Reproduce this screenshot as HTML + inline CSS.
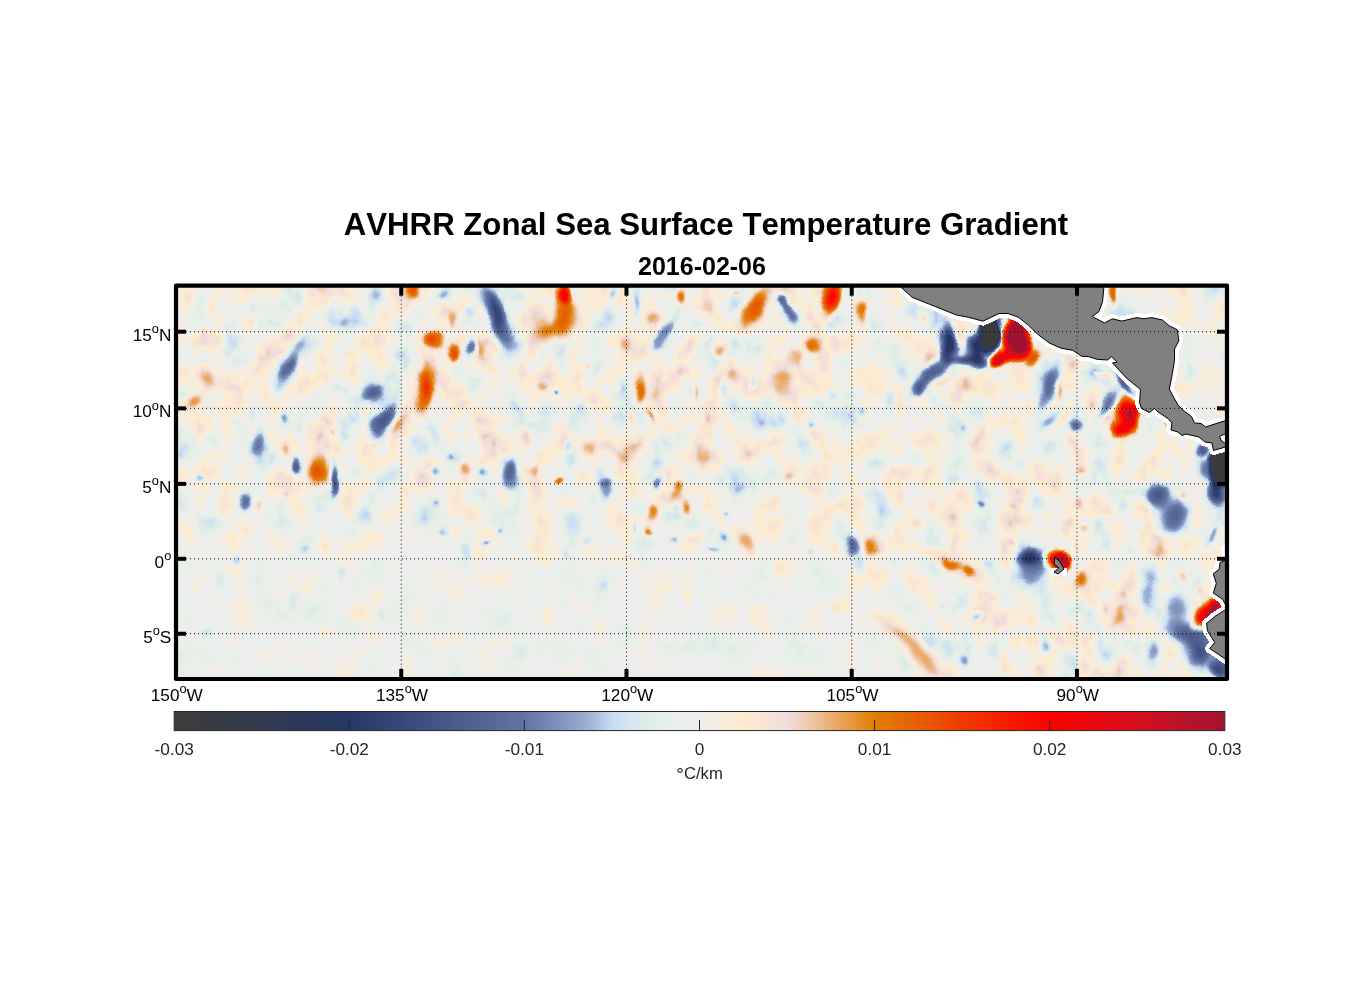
<!DOCTYPE html>
<html><head><meta charset="utf-8"><title>AVHRR Zonal Sea Surface Temperature Gradient</title>
<style>
html,body{margin:0;padding:0;background:#fff;}
body{width:1356px;height:1000px;overflow:hidden;font-family:"Liberation Sans",sans-serif;}
svg{display:block}
text{font-family:"Liberation Sans",sans-serif;}
</style></head><body>
<svg width="1356" height="1000" viewBox="0 0 1356 1000">
<defs>
<radialGradient id="gp"><stop offset="0" stop-color="#fff" stop-opacity="1"/><stop offset="0.2" stop-color="#fff" stop-opacity="0.93"/><stop offset="0.4" stop-color="#fff" stop-opacity="0.72"/><stop offset="0.6" stop-color="#fff" stop-opacity="0.42"/><stop offset="0.8" stop-color="#fff" stop-opacity="0.15"/><stop offset="1" stop-color="#fff" stop-opacity="0"/></radialGradient>
<radialGradient id="gn"><stop offset="0" stop-color="#000" stop-opacity="1"/><stop offset="0.2" stop-color="#000" stop-opacity="0.93"/><stop offset="0.4" stop-color="#000" stop-opacity="0.72"/><stop offset="0.6" stop-color="#000" stop-opacity="0.42"/><stop offset="0.8" stop-color="#000" stop-opacity="0.15"/><stop offset="1" stop-color="#000" stop-opacity="0"/></radialGradient>
<radialGradient id="gs"><stop offset="0" stop-color="#808080" stop-opacity="0.8"/><stop offset="0.4" stop-color="#808080" stop-opacity="0.62"/><stop offset="0.7" stop-color="#808080" stop-opacity="0.28"/><stop offset="1" stop-color="#808080" stop-opacity="0"/></radialGradient>
<radialGradient id="gpS"><stop offset="0" stop-color="#fff" stop-opacity="1"/><stop offset="0.5" stop-color="#fff" stop-opacity="1"/><stop offset="0.66" stop-color="#fff" stop-opacity="0.75"/><stop offset="0.85" stop-color="#fff" stop-opacity="0.3"/><stop offset="1" stop-color="#fff" stop-opacity="0"/></radialGradient>
<radialGradient id="gnS"><stop offset="0" stop-color="#000" stop-opacity="1"/><stop offset="0.5" stop-color="#000" stop-opacity="1"/><stop offset="0.66" stop-color="#000" stop-opacity="0.75"/><stop offset="0.85" stop-color="#000" stop-opacity="0.3"/><stop offset="1" stop-color="#000" stop-opacity="0"/></radialGradient>
<linearGradient id="cbg" x1="0" x2="1" y1="0" y2="0"><stop offset="0.0000" stop-color="rgb(60,60,60)"/><stop offset="0.0417" stop-color="rgb(55,59,68)"/><stop offset="0.0833" stop-color="rgb(50,58,78)"/><stop offset="0.1250" stop-color="rgb(44,56,90)"/><stop offset="0.1667" stop-color="rgb(38,55,102)"/><stop offset="0.2083" stop-color="rgb(52,68,118)"/><stop offset="0.2500" stop-color="rgb(68,84,134)"/><stop offset="0.2917" stop-color="rgb(82,100,148)"/><stop offset="0.3333" stop-color="rgb(97,116,162)"/><stop offset="0.3750" stop-color="rgb(135,155,195)"/><stop offset="0.3958" stop-color="rgb(160,180,212)"/><stop offset="0.4167" stop-color="rgb(200,220,245)"/><stop offset="0.4375" stop-color="rgb(215,230,240)"/><stop offset="0.4583" stop-color="rgb(226,238,230)"/><stop offset="0.4792" stop-color="rgb(234,240,234)"/><stop offset="0.5000" stop-color="rgb(238,238,238)"/><stop offset="0.5208" stop-color="rgb(246,238,224)"/><stop offset="0.5417" stop-color="rgb(253,236,206)"/><stop offset="0.5625" stop-color="rgb(247,228,214)"/><stop offset="0.5833" stop-color="rgb(240,222,222)"/><stop offset="0.6042" stop-color="rgb(238,200,170)"/><stop offset="0.6250" stop-color="rgb(235,175,115)"/><stop offset="0.6458" stop-color="rgb(230,150,60)"/><stop offset="0.6667" stop-color="rgb(225,125,5)"/><stop offset="0.7083" stop-color="rgb(232,95,3)"/><stop offset="0.7500" stop-color="rgb(240,58,0)"/><stop offset="0.7917" stop-color="rgb(248,28,0)"/><stop offset="0.8333" stop-color="rgb(255,0,0)"/><stop offset="0.8750" stop-color="rgb(235,8,15)"/><stop offset="0.9167" stop-color="rgb(215,15,30)"/><stop offset="0.9583" stop-color="rgb(188,18,40)"/><stop offset="1.0000" stop-color="rgb(160,20,50)"/></linearGradient>
<filter id="cm" filterUnits="userSpaceOnUse" x="170" y="280" width="1064" height="406" color-interpolation-filters="sRGB">
<feComponentTransfer>
<feFuncR type="table" tableValues="0.235 0.230 0.225 0.221 0.216 0.211 0.206 0.201 0.196 0.190 0.184 0.178 0.173 0.167 0.161 0.155 0.149 0.163 0.176 0.190 0.204 0.220 0.235 0.251 0.267 0.280 0.294 0.308 0.322 0.336 0.351 0.366 0.380 0.418 0.455 0.492 0.529 0.578 0.627 0.706 0.784 0.814 0.843 0.865 0.886 0.902 0.918 0.925 0.933 0.949 0.965 0.978 0.992 0.980 0.969 0.955 0.941 0.937 0.933 0.927 0.922 0.912 0.902 0.892 0.882 0.889 0.896 0.903 0.910 0.918 0.925 0.933 0.941 0.949 0.957 0.965 0.973 0.979 0.986 0.993 1.000 0.980 0.961 0.941 0.922 0.902 0.882 0.863 0.843 0.817 0.790 0.764 0.737 0.710 0.682 0.655 0.627"/>
<feFuncG type="table" tableValues="0.235 0.234 0.233 0.232 0.231 0.230 0.229 0.228 0.227 0.225 0.224 0.222 0.220 0.219 0.218 0.217 0.216 0.228 0.241 0.254 0.267 0.282 0.298 0.314 0.329 0.345 0.361 0.376 0.392 0.408 0.424 0.439 0.455 0.493 0.531 0.570 0.608 0.657 0.706 0.784 0.863 0.882 0.902 0.918 0.933 0.937 0.941 0.937 0.933 0.933 0.933 0.929 0.925 0.910 0.894 0.882 0.871 0.827 0.784 0.735 0.686 0.637 0.588 0.539 0.490 0.461 0.431 0.402 0.373 0.336 0.300 0.264 0.227 0.198 0.169 0.139 0.110 0.082 0.055 0.027 0.000 0.008 0.016 0.024 0.031 0.038 0.045 0.052 0.059 0.062 0.065 0.068 0.071 0.073 0.075 0.076 0.078"/>
<feFuncB type="table" tableValues="0.235 0.243 0.251 0.259 0.267 0.276 0.286 0.296 0.306 0.318 0.329 0.341 0.353 0.365 0.376 0.388 0.400 0.416 0.431 0.447 0.463 0.478 0.494 0.510 0.525 0.539 0.553 0.567 0.580 0.594 0.608 0.622 0.635 0.668 0.700 0.732 0.765 0.798 0.831 0.896 0.961 0.951 0.941 0.922 0.902 0.910 0.918 0.925 0.933 0.906 0.878 0.843 0.808 0.824 0.839 0.855 0.871 0.769 0.667 0.559 0.451 0.343 0.235 0.127 0.020 0.018 0.016 0.014 0.012 0.009 0.006 0.003 0.000 0.000 0.000 0.000 0.000 0.000 0.000 0.000 0.000 0.015 0.029 0.044 0.059 0.074 0.088 0.103 0.118 0.127 0.137 0.147 0.157 0.167 0.176 0.186 0.196"/>
</feComponentTransfer>
</filter>
<filter id="dp" filterUnits="userSpaceOnUse" x="170" y="280" width="1064" height="406" color-interpolation-filters="sRGB">
<feTurbulence type="fractalNoise" baseFrequency="0.05" numOctaves="1" seed="3" result="d"/>
<feDisplacementMap in="SourceGraphic" in2="d" scale="11" xChannelSelector="R" yChannelSelector="G"/>
</filter>
<filter id="nz" filterUnits="userSpaceOnUse" x="170" y="280" width="1064" height="406" color-interpolation-filters="sRGB">
<feTurbulence type="fractalNoise" baseFrequency="0.036 0.030" numOctaves="3" seed="7" result="t"/>
<feColorMatrix in="t" type="matrix" values="0.31 0 0 0 0.357  0.31 0 0 0 0.357  0.31 0 0 0 0.357  0 0 0 0 1"/>
</filter>
<linearGradient id="vg" x1="0" x2="0" y1="0" y2="1"><stop offset="0" stop-color="#7b7b7b" stop-opacity="0"/><stop offset="0.45" stop-color="#7b7b7b" stop-opacity="0"/><stop offset="0.72" stop-color="#7b7b7b" stop-opacity="0.55"/><stop offset="1" stop-color="#7b7b7b" stop-opacity="0.6"/></linearGradient>
<linearGradient id="hg" x1="0" x2="1" y1="0" y2="0"><stop offset="0" stop-color="#fff"/><stop offset="0.62" stop-color="#fff"/><stop offset="0.78" stop-color="#000"/><stop offset="1" stop-color="#000"/></linearGradient>
<mask id="hm" maskUnits="userSpaceOnUse" x="170" y="280" width="1064" height="406"><rect x="170" y="280" width="1064" height="406" fill="url(#hg)"/></mask>
<clipPath id="ax"><rect x="176" y="285.7" width="1051" height="393.3"/></clipPath>
</defs>
<rect width="1356" height="1000" fill="#fff"/>
<g clip-path="url(#ax)">
<g filter="url(#cm)">
<rect x="170" y="280" width="1064" height="406" fill="#808080" filter="url(#nz)"/>
<rect x="170" y="280" width="1064" height="406" fill="url(#vg)" mask="url(#hm)"/>
<g filter="url(#dp)">
<ellipse cx="412.0" cy="291.0" rx="12.2" ry="15.8" fill="url(#gs)"/>
<ellipse cx="434.0" cy="340.0" rx="15.8" ry="15.8" fill="url(#gs)" transform="rotate(-30 434.0 340.0)"/>
<ellipse cx="426.0" cy="390.0" rx="14.0" ry="38.5" fill="url(#gs)" transform="rotate(5 426.0 390.0)"/>
<ellipse cx="395.0" cy="425.0" rx="19.3" ry="9.1" fill="url(#gs)" transform="rotate(-36 395.0 425.0)"/>
<ellipse cx="372.0" cy="393.0" rx="21.0" ry="17.5" fill="url(#gs)"/>
<ellipse cx="383.0" cy="420.0" rx="31.7" ry="15.9" fill="url(#gs)" transform="rotate(-60 383.0 420.0)"/>
<ellipse cx="286.0" cy="370.0" rx="22.0" ry="13.7" fill="url(#gs)" transform="rotate(-63 286.0 370.0)"/>
<ellipse cx="298.0" cy="350.0" rx="30.5" ry="11.4" fill="url(#gs)" transform="rotate(-56 298.0 350.0)"/>
<ellipse cx="206.0" cy="378.0" rx="12.2" ry="19.2" fill="url(#gs)" transform="rotate(-20 206.0 378.0)"/>
<ellipse cx="194.0" cy="402.0" rx="17.5" ry="12.2" fill="url(#gs)" transform="rotate(-40 194.0 402.0)"/>
<ellipse cx="259.0" cy="444.0" rx="14.0" ry="19.2" fill="url(#gs)"/>
<ellipse cx="285.0" cy="418.0" rx="7.0" ry="10.5" fill="url(#gs)"/>
<ellipse cx="285.0" cy="448.0" rx="7.0" ry="12.2" fill="url(#gs)"/>
<ellipse cx="318.0" cy="471.0" rx="15.8" ry="24.5" fill="url(#gs)"/>
<ellipse cx="296.0" cy="466.0" rx="7.0" ry="14.0" fill="url(#gs)"/>
<ellipse cx="333.0" cy="481.0" rx="7.0" ry="26.2" fill="url(#gs)"/>
<ellipse cx="334.0" cy="430.0" rx="5.2" ry="5.2" fill="url(#gs)"/>
<ellipse cx="374.0" cy="446.0" rx="5.2" ry="5.2" fill="url(#gs)"/>
<ellipse cx="200.0" cy="478.0" rx="8.8" ry="7.0" fill="url(#gs)"/>
<ellipse cx="434.0" cy="472.0" rx="8.8" ry="8.8" fill="url(#gs)"/>
<ellipse cx="376.0" cy="294.0" rx="8.8" ry="14.0" fill="url(#gs)"/>
<ellipse cx="356.0" cy="314.0" rx="8.8" ry="12.2" fill="url(#gs)"/>
<ellipse cx="416.0" cy="442.0" rx="8.8" ry="14.0" fill="url(#gs)"/>
<ellipse cx="442.0" cy="294.0" rx="8.8" ry="10.5" fill="url(#gs)"/>
<ellipse cx="492.0" cy="304.0" rx="33.0" ry="13.7" fill="url(#gs)" transform="rotate(67 492.0 304.0)"/>
<ellipse cx="501.5" cy="326.0" rx="40.8" ry="15.9" fill="url(#gs)" transform="rotate(70 501.5 326.0)"/>
<ellipse cx="564.0" cy="293.0" rx="10.5" ry="15.8" fill="url(#gs)"/>
<ellipse cx="567.0" cy="310.0" rx="19.2" ry="22.8" fill="url(#gs)"/>
<ellipse cx="557.0" cy="327.0" rx="29.8" ry="17.5" fill="url(#gs)"/>
<ellipse cx="540.0" cy="336.0" rx="17.5" ry="17.5" fill="url(#gs)"/>
<ellipse cx="532.0" cy="350.0" rx="10.5" ry="17.5" fill="url(#gs)"/>
<ellipse cx="538.0" cy="312.0" rx="14.0" ry="14.0" fill="url(#gs)"/>
<ellipse cx="453.0" cy="352.0" rx="12.2" ry="15.8" fill="url(#gs)"/>
<ellipse cx="453.0" cy="320.0" rx="7.0" ry="14.0" fill="url(#gs)"/>
<ellipse cx="471.0" cy="348.0" rx="8.8" ry="15.8" fill="url(#gs)"/>
<ellipse cx="470.0" cy="312.0" rx="8.8" ry="12.2" fill="url(#gs)"/>
<ellipse cx="626.0" cy="344.0" rx="12.2" ry="15.8" fill="url(#gs)"/>
<ellipse cx="682.0" cy="297.0" rx="10.5" ry="14.0" fill="url(#gs)"/>
<ellipse cx="654.0" cy="318.0" rx="12.2" ry="10.5" fill="url(#gs)"/>
<ellipse cx="659.0" cy="341.0" rx="22.7" ry="10.2" fill="url(#gs)" transform="rotate(-61 659.0 341.0)"/>
<ellipse cx="668.0" cy="325.0" rx="18.3" ry="9.1" fill="url(#gs)" transform="rotate(-60 668.0 325.0)"/>
<ellipse cx="636.0" cy="302.0" rx="7.0" ry="24.5" fill="url(#gs)"/>
<ellipse cx="612.0" cy="294.0" rx="7.0" ry="10.5" fill="url(#gs)"/>
<ellipse cx="612.0" cy="316.0" rx="7.0" ry="12.2" fill="url(#gs)"/>
<ellipse cx="640.0" cy="390.0" rx="8.8" ry="24.5" fill="url(#gs)"/>
<ellipse cx="650.0" cy="416.0" rx="5.2" ry="14.0" fill="url(#gs)" transform="rotate(-15 650.0 416.0)"/>
<ellipse cx="543.0" cy="385.0" rx="10.5" ry="8.8" fill="url(#gs)"/>
<ellipse cx="558.0" cy="393.0" rx="5.2" ry="5.2" fill="url(#gs)"/>
<ellipse cx="588.0" cy="450.0" rx="12.2" ry="12.2" fill="url(#gs)"/>
<ellipse cx="511.0" cy="474.0" rx="14.0" ry="22.8" fill="url(#gs)"/>
<ellipse cx="465.0" cy="468.0" rx="12.2" ry="8.8" fill="url(#gs)" transform="rotate(-35 465.0 468.0)"/>
<ellipse cx="484.0" cy="472.0" rx="8.8" ry="8.8" fill="url(#gs)"/>
<ellipse cx="525.0" cy="438.0" rx="8.8" ry="14.0" fill="url(#gs)"/>
<ellipse cx="534.0" cy="472.0" rx="8.8" ry="12.2" fill="url(#gs)"/>
<ellipse cx="558.0" cy="480.0" rx="8.8" ry="7.0" fill="url(#gs)"/>
<ellipse cx="696.0" cy="394.0" rx="5.2" ry="10.5" fill="url(#gs)"/>
<ellipse cx="586.0" cy="365.0" rx="5.2" ry="5.2" fill="url(#gs)"/>
<ellipse cx="570.0" cy="446.0" rx="5.2" ry="8.8" fill="url(#gs)"/>
<ellipse cx="450.0" cy="458.0" rx="7.0" ry="7.0" fill="url(#gs)"/>
<ellipse cx="604.0" cy="482.0" rx="8.8" ry="7.0" fill="url(#gs)"/>
<ellipse cx="658.0" cy="481.0" rx="8.8" ry="7.0" fill="url(#gs)"/>
<ellipse cx="678.0" cy="484.0" rx="8.8" ry="7.0" fill="url(#gs)"/>
<ellipse cx="622.0" cy="386.0" rx="7.0" ry="10.5" fill="url(#gs)"/>
<ellipse cx="632.0" cy="419.0" rx="7.0" ry="10.5" fill="url(#gs)"/>
<ellipse cx="710.0" cy="416.0" rx="7.0" ry="10.5" fill="url(#gs)"/>
<ellipse cx="755.0" cy="308.0" rx="39.5" ry="15.9" fill="url(#gs)" transform="rotate(119 755.0 308.0)"/>
<ellipse cx="832.5" cy="298.0" rx="29.4" ry="13.7" fill="url(#gs)" transform="rotate(115 832.5 298.0)"/>
<ellipse cx="783.0" cy="299.0" rx="10.5" ry="10.5" fill="url(#gs)"/>
<ellipse cx="788.0" cy="307.0" rx="8.8" ry="8.8" fill="url(#gs)"/>
<ellipse cx="792.0" cy="316.0" rx="12.2" ry="14.0" fill="url(#gs)"/>
<ellipse cx="863.0" cy="312.0" rx="10.5" ry="19.2" fill="url(#gs)"/>
<ellipse cx="812.0" cy="343.0" rx="14.0" ry="14.0" fill="url(#gs)"/>
<ellipse cx="796.0" cy="358.0" rx="14.0" ry="15.8" fill="url(#gs)" transform="rotate(-40 796.0 358.0)"/>
<ellipse cx="781.0" cy="376.0" rx="15.8" ry="24.5" fill="url(#gs)"/>
<ellipse cx="782.0" cy="394.0" rx="12.2" ry="14.0" fill="url(#gs)"/>
<ellipse cx="719.0" cy="349.0" rx="12.2" ry="12.2" fill="url(#gs)"/>
<ellipse cx="735.0" cy="291.0" rx="7.0" ry="5.2" fill="url(#gs)"/>
<ellipse cx="948.0" cy="342.0" rx="12.2" ry="29.8" fill="url(#gs)"/>
<ellipse cx="932.0" cy="374.0" rx="40.4" ry="12.5" fill="url(#gs)" transform="rotate(135 932.0 374.0)"/>
<ellipse cx="918.0" cy="389.0" rx="10.5" ry="10.5" fill="url(#gs)"/>
<ellipse cx="969.0" cy="360.5" rx="30.5" ry="9.1" fill="url(#gs)" transform="rotate(2 969.0 360.5)"/>
<ellipse cx="944.0" cy="380.0" rx="7.0" ry="17.5" fill="url(#gs)" transform="rotate(40 944.0 380.0)"/>
<ellipse cx="972.0" cy="334.0" rx="5.2" ry="7.0" fill="url(#gs)"/>
<ellipse cx="863.0" cy="413.0" rx="7.0" ry="7.0" fill="url(#gs)"/>
<ellipse cx="811.0" cy="426.0" rx="7.0" ry="7.0" fill="url(#gs)"/>
<ellipse cx="966.0" cy="430.0" rx="5.2" ry="7.0" fill="url(#gs)"/>
<ellipse cx="788.0" cy="476.0" rx="10.5" ry="7.0" fill="url(#gs)" transform="rotate(-20 788.0 476.0)"/>
<ellipse cx="726.0" cy="388.0" rx="8.8" ry="10.5" fill="url(#gs)"/>
<ellipse cx="752.0" cy="382.0" rx="7.0" ry="14.0" fill="url(#gs)"/>
<ellipse cx="925.0" cy="319.0" rx="7.0" ry="10.5" fill="url(#gs)"/>
<ellipse cx="890.0" cy="398.0" rx="8.8" ry="10.5" fill="url(#gs)"/>
<ellipse cx="832.0" cy="396.0" rx="8.8" ry="10.5" fill="url(#gs)"/>
<ellipse cx="990.0" cy="333.0" rx="14.0" ry="24.5" fill="url(#gs)"/>
<ellipse cx="978.0" cy="348.0" rx="17.5" ry="24.5" fill="url(#gs)"/>
<ellipse cx="1017.0" cy="337.0" rx="15.8" ry="28.0" fill="url(#gs)"/>
<ellipse cx="1004.0" cy="358.0" rx="21.0" ry="12.2" fill="url(#gs)"/>
<ellipse cx="997.0" cy="362.0" rx="10.5" ry="10.5" fill="url(#gs)"/>
<ellipse cx="1032.0" cy="356.0" rx="12.2" ry="15.8" fill="url(#gs)"/>
<ellipse cx="1128.0" cy="414.0" rx="15.8" ry="29.8" fill="url(#gs)"/>
<ellipse cx="1120.0" cy="430.0" rx="12.2" ry="10.5" fill="url(#gs)"/>
<ellipse cx="1050.0" cy="385.0" rx="40.1" ry="11.4" fill="url(#gs)" transform="rotate(108 1050.0 385.0)"/>
<ellipse cx="1051.0" cy="419.0" rx="21.5" ry="9.1" fill="url(#gs)" transform="rotate(135 1051.0 419.0)"/>
<ellipse cx="1074.0" cy="426.0" rx="14.0" ry="12.2" fill="url(#gs)"/>
<ellipse cx="1106.0" cy="405.0" rx="24.2" ry="11.4" fill="url(#gs)" transform="rotate(124 1106.0 405.0)"/>
<ellipse cx="1125.0" cy="383.0" rx="25.4" ry="6.8" fill="url(#gs)" transform="rotate(45 1125.0 383.0)"/>
<ellipse cx="1060.0" cy="392.0" rx="5.2" ry="15.8" fill="url(#gs)"/>
<ellipse cx="1083.0" cy="469.0" rx="10.5" ry="8.8" fill="url(#gs)" transform="rotate(-30 1083.0 469.0)"/>
<ellipse cx="1104.0" cy="376.0" rx="14.0" ry="5.2" fill="url(#gs)" transform="rotate(30 1104.0 376.0)"/>
<ellipse cx="1166.0" cy="424.0" rx="7.0" ry="5.2" fill="url(#gs)"/>
<ellipse cx="1112.0" cy="296.0" rx="7.0" ry="15.8" fill="url(#gs)"/>
<ellipse cx="1020.0" cy="376.0" rx="21.0" ry="24.5" fill="url(#gs)"/>
<ellipse cx="1221.0" cy="466.0" rx="15.8" ry="24.5" fill="url(#gs)"/>
<ellipse cx="1202.0" cy="450.0" rx="10.5" ry="10.5" fill="url(#gs)"/>
<ellipse cx="1206.0" cy="470.0" rx="14.0" ry="17.5" fill="url(#gs)"/>
<ellipse cx="1190.0" cy="370.0" rx="8.8" ry="17.5" fill="url(#gs)"/>
<ellipse cx="245.0" cy="503.0" rx="10.5" ry="15.8" fill="url(#gs)"/>
<ellipse cx="260.0" cy="506.0" rx="5.2" ry="10.5" fill="url(#gs)"/>
<ellipse cx="285.0" cy="495.0" rx="5.2" ry="5.2" fill="url(#gs)"/>
<ellipse cx="224.0" cy="506.0" rx="12.2" ry="21.0" fill="url(#gs)"/>
<ellipse cx="348.0" cy="506.0" rx="10.5" ry="17.5" fill="url(#gs)"/>
<ellipse cx="326.0" cy="548.0" rx="10.5" ry="14.0" fill="url(#gs)"/>
<ellipse cx="436.0" cy="504.0" rx="7.0" ry="10.5" fill="url(#gs)"/>
<ellipse cx="444.0" cy="530.0" rx="7.0" ry="8.8" fill="url(#gs)"/>
<ellipse cx="364.0" cy="516.0" rx="8.8" ry="10.5" fill="url(#gs)"/>
<ellipse cx="342.0" cy="574.0" rx="8.8" ry="12.2" fill="url(#gs)"/>
<ellipse cx="236.0" cy="560.0" rx="8.8" ry="7.0" fill="url(#gs)"/>
<ellipse cx="220.0" cy="580.0" rx="7.0" ry="14.0" fill="url(#gs)"/>
<ellipse cx="294.0" cy="600.0" rx="8.8" ry="15.8" fill="url(#gs)"/>
<ellipse cx="206.0" cy="634.0" rx="7.0" ry="8.8" fill="url(#gs)"/>
<ellipse cx="382.0" cy="614.0" rx="8.8" ry="10.5" fill="url(#gs)"/>
<ellipse cx="304.0" cy="549.0" rx="5.2" ry="5.2" fill="url(#gs)"/>
<ellipse cx="358.0" cy="612.0" rx="12.2" ry="14.0" fill="url(#gs)"/>
<ellipse cx="325.0" cy="632.0" rx="10.5" ry="8.8" fill="url(#gs)"/>
<ellipse cx="246.0" cy="530.0" rx="10.5" ry="10.5" fill="url(#gs)"/>
<ellipse cx="605.0" cy="491.0" rx="8.8" ry="15.8" fill="url(#gs)"/>
<ellipse cx="652.0" cy="514.0" rx="10.5" ry="15.8" fill="url(#gs)" transform="rotate(30 652.0 514.0)"/>
<ellipse cx="648.0" cy="530.0" rx="7.0" ry="7.0" fill="url(#gs)"/>
<ellipse cx="686.0" cy="508.0" rx="8.8" ry="15.8" fill="url(#gs)" transform="rotate(-15 686.0 508.0)"/>
<ellipse cx="679.0" cy="491.0" rx="8.8" ry="15.8" fill="url(#gs)" transform="rotate(20 679.0 491.0)"/>
<ellipse cx="666.0" cy="497.0" rx="17.5" ry="12.2" fill="url(#gs)"/>
<ellipse cx="487.0" cy="543.0" rx="10.5" ry="5.2" fill="url(#gs)" transform="rotate(-25 487.0 543.0)"/>
<ellipse cx="499.0" cy="530.0" rx="5.2" ry="5.2" fill="url(#gs)"/>
<ellipse cx="574.0" cy="520.0" rx="14.0" ry="17.5" fill="url(#gs)"/>
<ellipse cx="566.0" cy="552.0" rx="7.0" ry="7.0" fill="url(#gs)"/>
<ellipse cx="586.0" cy="543.0" rx="8.8" ry="8.8" fill="url(#gs)"/>
<ellipse cx="465.0" cy="552.0" rx="7.0" ry="10.5" fill="url(#gs)"/>
<ellipse cx="605.0" cy="586.0" rx="7.0" ry="8.8" fill="url(#gs)"/>
<ellipse cx="674.0" cy="540.0" rx="7.0" ry="7.0" fill="url(#gs)"/>
<ellipse cx="713.0" cy="550.0" rx="7.0" ry="5.2" fill="url(#gs)"/>
<ellipse cx="656.0" cy="486.0" rx="7.0" ry="8.8" fill="url(#gs)"/>
<ellipse cx="634.0" cy="527.0" rx="5.2" ry="8.8" fill="url(#gs)"/>
<ellipse cx="538.0" cy="542.0" rx="12.2" ry="15.8" fill="url(#gs)"/>
<ellipse cx="470.0" cy="515.0" rx="10.5" ry="10.5" fill="url(#gs)"/>
<ellipse cx="456.0" cy="532.0" rx="8.8" ry="14.0" fill="url(#gs)"/>
<ellipse cx="560.0" cy="482.0" rx="8.8" ry="7.0" fill="url(#gs)"/>
<ellipse cx="694.0" cy="540.0" rx="10.5" ry="8.8" fill="url(#gs)"/>
<ellipse cx="688.0" cy="596.0" rx="8.8" ry="10.5" fill="url(#gs)"/>
<ellipse cx="546.0" cy="616.0" rx="7.0" ry="17.5" fill="url(#gs)"/>
<ellipse cx="745.5" cy="542.5" rx="25.4" ry="11.4" fill="url(#gs)" transform="rotate(56 745.5 542.5)"/>
<ellipse cx="851.0" cy="546.0" rx="10.5" ry="15.8" fill="url(#gs)"/>
<ellipse cx="871.0" cy="546.0" rx="14.0" ry="15.8" fill="url(#gs)"/>
<ellipse cx="954.0" cy="564.5" rx="63.0" ry="10.2" fill="url(#gs)" transform="rotate(26 954.0 564.5)"/>
<ellipse cx="952.0" cy="563.0" rx="14.0" ry="7.0" fill="url(#gs)" transform="rotate(25 952.0 563.0)"/>
<ellipse cx="968.0" cy="571.0" rx="8.8" ry="5.2" fill="url(#gs)" transform="rotate(25 968.0 571.0)"/>
<ellipse cx="920.5" cy="654.5" rx="51.9" ry="15.9" fill="url(#gs)" transform="rotate(47 920.5 654.5)"/>
<ellipse cx="889.0" cy="625.0" rx="37.8" ry="11.4" fill="url(#gs)" transform="rotate(36 889.0 625.0)"/>
<ellipse cx="725.0" cy="538.0" rx="7.0" ry="7.0" fill="url(#gs)"/>
<ellipse cx="725.0" cy="512.0" rx="5.2" ry="5.2" fill="url(#gs)"/>
<ellipse cx="965.0" cy="660.0" rx="8.8" ry="10.5" fill="url(#gs)"/>
<ellipse cx="977.0" cy="616.0" rx="7.0" ry="7.0" fill="url(#gs)"/>
<ellipse cx="980.0" cy="504.0" rx="5.2" ry="5.2" fill="url(#gs)"/>
<ellipse cx="883.0" cy="508.0" rx="7.0" ry="14.0" fill="url(#gs)"/>
<ellipse cx="860.0" cy="564.0" rx="10.5" ry="12.2" fill="url(#gs)"/>
<ellipse cx="940.0" cy="608.0" rx="7.0" ry="10.5" fill="url(#gs)"/>
<ellipse cx="810.0" cy="550.0" rx="7.0" ry="5.2" fill="url(#gs)"/>
<ellipse cx="776.0" cy="526.0" rx="17.5" ry="17.5" fill="url(#gs)"/>
<ellipse cx="776.0" cy="502.0" rx="10.5" ry="14.0" fill="url(#gs)"/>
<ellipse cx="815.0" cy="489.0" rx="8.8" ry="8.8" fill="url(#gs)"/>
<ellipse cx="860.0" cy="506.0" rx="10.5" ry="12.2" fill="url(#gs)"/>
<ellipse cx="916.0" cy="524.0" rx="10.5" ry="10.5" fill="url(#gs)"/>
<ellipse cx="900.0" cy="498.0" rx="8.8" ry="14.0" fill="url(#gs)"/>
<ellipse cx="778.0" cy="568.0" rx="12.2" ry="14.0" fill="url(#gs)"/>
<ellipse cx="834.0" cy="606.0" rx="10.5" ry="8.8" fill="url(#gs)"/>
<ellipse cx="834.0" cy="546.0" rx="7.0" ry="8.8" fill="url(#gs)"/>
<ellipse cx="936.0" cy="506.0" rx="8.8" ry="10.5" fill="url(#gs)"/>
<ellipse cx="1033.0" cy="567.0" rx="24.5" ry="29.8" fill="url(#gs)"/>
<ellipse cx="1030.0" cy="557.0" rx="17.5" ry="14.0" fill="url(#gs)"/>
<ellipse cx="1059.0" cy="562.0" rx="19.2" ry="17.5" fill="url(#gs)"/>
<ellipse cx="1064.0" cy="560.0" rx="8.8" ry="10.5" fill="url(#gs)"/>
<ellipse cx="1082.0" cy="580.0" rx="14.0" ry="15.8" fill="url(#gs)"/>
<ellipse cx="1079.0" cy="504.0" rx="8.8" ry="14.0" fill="url(#gs)"/>
<ellipse cx="1085.0" cy="528.0" rx="7.0" ry="7.0" fill="url(#gs)"/>
<ellipse cx="1013.0" cy="507.0" rx="7.0" ry="7.0" fill="url(#gs)"/>
<ellipse cx="1052.0" cy="486.0" rx="7.0" ry="7.0" fill="url(#gs)"/>
<ellipse cx="1011.0" cy="544.0" rx="7.0" ry="7.0" fill="url(#gs)"/>
<ellipse cx="1104.0" cy="606.0" rx="7.0" ry="8.8" fill="url(#gs)"/>
<ellipse cx="1075.0" cy="546.0" rx="7.0" ry="8.8" fill="url(#gs)"/>
<ellipse cx="1184.0" cy="495.0" rx="8.8" ry="7.0" fill="url(#gs)"/>
<ellipse cx="1183.0" cy="578.0" rx="7.0" ry="8.8" fill="url(#gs)"/>
<ellipse cx="1202.0" cy="592.0" rx="7.0" ry="8.8" fill="url(#gs)"/>
<ellipse cx="972.0" cy="574.0" rx="8.8" ry="5.2" fill="url(#gs)"/>
<ellipse cx="1123.0" cy="485.0" rx="7.0" ry="5.2" fill="url(#gs)"/>
<ellipse cx="1156.0" cy="495.0" rx="17.5" ry="19.2" fill="url(#gs)"/>
<ellipse cx="1174.0" cy="516.0" rx="26.2" ry="26.2" fill="url(#gs)"/>
<ellipse cx="1218.0" cy="492.0" rx="14.0" ry="21.0" fill="url(#gs)"/>
<ellipse cx="1212.0" cy="536.0" rx="5.2" ry="14.0" fill="url(#gs)" transform="rotate(30 1212.0 536.0)"/>
<ellipse cx="1150.0" cy="576.0" rx="15.8" ry="24.5" fill="url(#gs)"/>
<ellipse cx="1146.0" cy="600.0" rx="10.5" ry="21.0" fill="url(#gs)"/>
<ellipse cx="1178.0" cy="608.0" rx="17.5" ry="24.5" fill="url(#gs)"/>
<ellipse cx="1184.0" cy="632.0" rx="24.5" ry="17.5" fill="url(#gs)"/>
<ellipse cx="1200.0" cy="650.0" rx="21.0" ry="31.5" fill="url(#gs)"/>
<ellipse cx="1220.0" cy="668.0" rx="14.0" ry="17.5" fill="url(#gs)"/>
<ellipse cx="1152.0" cy="650.0" rx="8.8" ry="15.8" fill="url(#gs)"/>
<ellipse cx="1212.0" cy="610.0" rx="33.6" ry="13.7" fill="url(#gs)" transform="rotate(-40 1212.0 610.0)"/>
<ellipse cx="1046.0" cy="646.0" rx="8.8" ry="14.0" fill="url(#gs)"/>
<ellipse cx="988.0" cy="564.0" rx="8.8" ry="7.0" fill="url(#gs)"/>
<ellipse cx="979.0" cy="504.0" rx="7.0" ry="7.0" fill="url(#gs)"/>
<ellipse cx="1032.0" cy="620.0" rx="10.5" ry="14.0" fill="url(#gs)"/>
<ellipse cx="1084.0" cy="666.0" rx="8.8" ry="12.2" fill="url(#gs)"/>
<ellipse cx="1060.0" cy="640.0" rx="8.8" ry="10.5" fill="url(#gs)"/>
<ellipse cx="1200.0" cy="340.0" rx="39.2" ry="70.0" fill="url(#gs)"/>
<ellipse cx="1150.0" cy="300.0" rx="56.0" ry="19.6" fill="url(#gs)"/>
<ellipse cx="1205.0" cy="400.0" rx="30.8" ry="33.6" fill="url(#gs)"/>
<ellipse cx="412.0" cy="291.0" rx="12.2" ry="15.8" fill="url(#gp)" opacity="0.455"/>
<ellipse cx="434.0" cy="340.0" rx="15.8" ry="15.8" fill="url(#gp)" opacity="0.490" transform="rotate(-30 434.0 340.0)"/>
<ellipse cx="426.0" cy="390.0" rx="14.0" ry="38.5" fill="url(#gp)" opacity="0.525" transform="rotate(5 426.0 390.0)"/>
<ellipse cx="395.0" cy="425.0" rx="19.3" ry="9.1" fill="url(#gp)" opacity="0.276" transform="rotate(-36 395.0 425.0)"/>
<ellipse cx="372.0" cy="393.0" rx="21.0" ry="17.5" fill="url(#gn)" opacity="0.455"/>
<ellipse cx="383.0" cy="420.0" rx="31.7" ry="15.9" fill="url(#gn)" opacity="0.490" transform="rotate(-60 383.0 420.0)"/>
<ellipse cx="286.0" cy="370.0" rx="22.0" ry="13.7" fill="url(#gn)" opacity="0.368" transform="rotate(-63 286.0 370.0)"/>
<ellipse cx="298.0" cy="350.0" rx="30.5" ry="11.4" fill="url(#gn)" opacity="0.215" transform="rotate(-56 298.0 350.0)"/>
<ellipse cx="206.0" cy="378.0" rx="12.2" ry="19.2" fill="url(#gp)" opacity="0.261" transform="rotate(-20 206.0 378.0)"/>
<ellipse cx="194.0" cy="402.0" rx="17.5" ry="12.2" fill="url(#gp)" opacity="0.291" transform="rotate(-40 194.0 402.0)"/>
<ellipse cx="259.0" cy="444.0" rx="14.0" ry="19.2" fill="url(#gn)" opacity="0.343"/>
<ellipse cx="285.0" cy="418.0" rx="7.0" ry="10.5" fill="url(#gn)" opacity="0.245"/>
<ellipse cx="285.0" cy="448.0" rx="7.0" ry="12.2" fill="url(#gp)" opacity="0.245"/>
<ellipse cx="318.0" cy="471.0" rx="15.8" ry="24.5" fill="url(#gp)" opacity="0.455"/>
<ellipse cx="296.0" cy="466.0" rx="7.0" ry="14.0" fill="url(#gn)" opacity="0.455"/>
<ellipse cx="333.0" cy="481.0" rx="7.0" ry="26.2" fill="url(#gn)" opacity="0.490"/>
<ellipse cx="334.0" cy="430.0" rx="5.2" ry="5.2" fill="url(#gp)" opacity="0.215"/>
<ellipse cx="374.0" cy="446.0" rx="5.2" ry="5.2" fill="url(#gp)" opacity="0.184"/>
<ellipse cx="200.0" cy="478.0" rx="8.8" ry="7.0" fill="url(#gn)" opacity="0.215"/>
<ellipse cx="434.0" cy="472.0" rx="8.8" ry="8.8" fill="url(#gn)" opacity="0.245"/>
<ellipse cx="376.0" cy="294.0" rx="8.8" ry="14.0" fill="url(#gn)" opacity="0.184"/>
<ellipse cx="356.0" cy="314.0" rx="8.8" ry="12.2" fill="url(#gn)" opacity="0.153"/>
<ellipse cx="416.0" cy="442.0" rx="8.8" ry="14.0" fill="url(#gn)" opacity="0.153"/>
<ellipse cx="442.0" cy="294.0" rx="8.8" ry="10.5" fill="url(#gn)" opacity="0.215"/>
<ellipse cx="492.0" cy="304.0" rx="33.0" ry="13.7" fill="url(#gn)" opacity="0.455" transform="rotate(67 492.0 304.0)"/>
<ellipse cx="501.5" cy="326.0" rx="40.8" ry="15.9" fill="url(#gn)" opacity="0.438" transform="rotate(70 501.5 326.0)"/>
<ellipse cx="564.0" cy="293.0" rx="10.5" ry="15.8" fill="url(#gp)" opacity="0.735"/>
<ellipse cx="567.0" cy="310.0" rx="19.2" ry="22.8" fill="url(#gp)" opacity="0.403"/>
<ellipse cx="557.0" cy="327.0" rx="29.8" ry="17.5" fill="url(#gp)" opacity="0.343"/>
<ellipse cx="540.0" cy="336.0" rx="17.5" ry="17.5" fill="url(#gp)" opacity="0.215"/>
<ellipse cx="532.0" cy="350.0" rx="10.5" ry="17.5" fill="url(#gp)" opacity="0.153"/>
<ellipse cx="538.0" cy="312.0" rx="14.0" ry="14.0" fill="url(#gp)" opacity="0.153"/>
<ellipse cx="453.0" cy="352.0" rx="12.2" ry="15.8" fill="url(#gp)" opacity="0.490"/>
<ellipse cx="453.0" cy="320.0" rx="7.0" ry="14.0" fill="url(#gp)" opacity="0.245"/>
<ellipse cx="471.0" cy="348.0" rx="8.8" ry="15.8" fill="url(#gn)" opacity="0.385"/>
<ellipse cx="470.0" cy="312.0" rx="8.8" ry="12.2" fill="url(#gn)" opacity="0.184"/>
<ellipse cx="626.0" cy="344.0" rx="12.2" ry="15.8" fill="url(#gp)" opacity="0.245"/>
<ellipse cx="682.0" cy="297.0" rx="10.5" ry="14.0" fill="url(#gp)" opacity="0.385"/>
<ellipse cx="654.0" cy="318.0" rx="12.2" ry="10.5" fill="url(#gp)" opacity="0.245"/>
<ellipse cx="659.0" cy="341.0" rx="22.7" ry="10.2" fill="url(#gn)" opacity="0.291" transform="rotate(-61 659.0 341.0)"/>
<ellipse cx="668.0" cy="325.0" rx="18.3" ry="9.1" fill="url(#gn)" opacity="0.215" transform="rotate(-60 668.0 325.0)"/>
<ellipse cx="636.0" cy="302.0" rx="7.0" ry="24.5" fill="url(#gn)" opacity="0.215"/>
<ellipse cx="612.0" cy="294.0" rx="7.0" ry="10.5" fill="url(#gn)" opacity="0.215"/>
<ellipse cx="612.0" cy="316.0" rx="7.0" ry="12.2" fill="url(#gn)" opacity="0.153"/>
<ellipse cx="640.0" cy="390.0" rx="8.8" ry="24.5" fill="url(#gp)" opacity="0.385"/>
<ellipse cx="650.0" cy="416.0" rx="5.2" ry="14.0" fill="url(#gp)" opacity="0.276" transform="rotate(-15 650.0 416.0)"/>
<ellipse cx="543.0" cy="385.0" rx="10.5" ry="8.8" fill="url(#gp)" opacity="0.245"/>
<ellipse cx="558.0" cy="393.0" rx="5.2" ry="5.2" fill="url(#gn)" opacity="0.276"/>
<ellipse cx="588.0" cy="450.0" rx="12.2" ry="12.2" fill="url(#gp)" opacity="0.245"/>
<ellipse cx="511.0" cy="474.0" rx="14.0" ry="22.8" fill="url(#gn)" opacity="0.420"/>
<ellipse cx="465.0" cy="468.0" rx="12.2" ry="8.8" fill="url(#gp)" opacity="0.276" transform="rotate(-35 465.0 468.0)"/>
<ellipse cx="484.0" cy="472.0" rx="8.8" ry="8.8" fill="url(#gn)" opacity="0.245"/>
<ellipse cx="525.0" cy="438.0" rx="8.8" ry="14.0" fill="url(#gp)" opacity="0.184"/>
<ellipse cx="534.0" cy="472.0" rx="8.8" ry="12.2" fill="url(#gp)" opacity="0.245"/>
<ellipse cx="558.0" cy="480.0" rx="8.8" ry="7.0" fill="url(#gp)" opacity="0.245"/>
<ellipse cx="696.0" cy="394.0" rx="5.2" ry="10.5" fill="url(#gp)" opacity="0.245"/>
<ellipse cx="586.0" cy="365.0" rx="5.2" ry="5.2" fill="url(#gp)" opacity="0.184"/>
<ellipse cx="570.0" cy="446.0" rx="5.2" ry="8.8" fill="url(#gn)" opacity="0.184"/>
<ellipse cx="450.0" cy="458.0" rx="7.0" ry="7.0" fill="url(#gn)" opacity="0.215"/>
<ellipse cx="604.0" cy="482.0" rx="8.8" ry="7.0" fill="url(#gn)" opacity="0.245"/>
<ellipse cx="658.0" cy="481.0" rx="8.8" ry="7.0" fill="url(#gn)" opacity="0.245"/>
<ellipse cx="678.0" cy="484.0" rx="8.8" ry="7.0" fill="url(#gp)" opacity="0.215"/>
<ellipse cx="622.0" cy="386.0" rx="7.0" ry="10.5" fill="url(#gn)" opacity="0.184"/>
<ellipse cx="632.0" cy="419.0" rx="7.0" ry="10.5" fill="url(#gp)" opacity="0.184"/>
<ellipse cx="710.0" cy="416.0" rx="7.0" ry="10.5" fill="url(#gp)" opacity="0.184"/>
<ellipse cx="755.0" cy="308.0" rx="39.5" ry="15.9" fill="url(#gp)" opacity="0.438" transform="rotate(119 755.0 308.0)"/>
<ellipse cx="832.5" cy="298.0" rx="29.4" ry="13.7" fill="url(#gp)" opacity="0.665" transform="rotate(115 832.5 298.0)"/>
<ellipse cx="783.0" cy="299.0" rx="10.5" ry="10.5" fill="url(#gn)" opacity="0.420"/>
<ellipse cx="788.0" cy="307.0" rx="8.8" ry="8.8" fill="url(#gn)" opacity="0.276"/>
<ellipse cx="792.0" cy="316.0" rx="12.2" ry="14.0" fill="url(#gn)" opacity="0.368"/>
<ellipse cx="863.0" cy="312.0" rx="10.5" ry="19.2" fill="url(#gp)" opacity="0.350"/>
<ellipse cx="812.0" cy="343.0" rx="14.0" ry="14.0" fill="url(#gp)" opacity="0.385"/>
<ellipse cx="796.0" cy="358.0" rx="14.0" ry="15.8" fill="url(#gp)" opacity="0.261" transform="rotate(-40 796.0 358.0)"/>
<ellipse cx="781.0" cy="376.0" rx="15.8" ry="24.5" fill="url(#gp)" opacity="0.270"/>
<ellipse cx="782.0" cy="394.0" rx="12.2" ry="14.0" fill="url(#gp)" opacity="0.123"/>
<ellipse cx="719.0" cy="349.0" rx="12.2" ry="12.2" fill="url(#gp)" opacity="0.291"/>
<ellipse cx="735.0" cy="291.0" rx="7.0" ry="5.2" fill="url(#gp)" opacity="0.215"/>
<ellipse cx="948.0" cy="342.0" rx="12.2" ry="29.8" fill="url(#gn)" opacity="0.735"/>
<ellipse cx="932.0" cy="374.0" rx="40.4" ry="12.5" fill="url(#gn)" opacity="0.455" transform="rotate(135 932.0 374.0)"/>
<ellipse cx="918.0" cy="389.0" rx="10.5" ry="10.5" fill="url(#gn)" opacity="0.276"/>
<ellipse cx="969.0" cy="360.5" rx="30.5" ry="9.1" fill="url(#gn)" opacity="0.525" transform="rotate(2 969.0 360.5)"/>
<ellipse cx="944.0" cy="380.0" rx="7.0" ry="17.5" fill="url(#gp)" opacity="0.153" transform="rotate(40 944.0 380.0)"/>
<ellipse cx="972.0" cy="334.0" rx="5.2" ry="7.0" fill="url(#gp)" opacity="0.215"/>
<ellipse cx="863.0" cy="413.0" rx="7.0" ry="7.0" fill="url(#gn)" opacity="0.215"/>
<ellipse cx="811.0" cy="426.0" rx="7.0" ry="7.0" fill="url(#gn)" opacity="0.215"/>
<ellipse cx="966.0" cy="430.0" rx="5.2" ry="7.0" fill="url(#gn)" opacity="0.184"/>
<ellipse cx="788.0" cy="476.0" rx="10.5" ry="7.0" fill="url(#gp)" opacity="0.215" transform="rotate(-20 788.0 476.0)"/>
<ellipse cx="726.0" cy="388.0" rx="8.8" ry="10.5" fill="url(#gn)" opacity="0.153"/>
<ellipse cx="752.0" cy="382.0" rx="7.0" ry="14.0" fill="url(#gn)" opacity="0.153"/>
<ellipse cx="925.0" cy="319.0" rx="7.0" ry="10.5" fill="url(#gp)" opacity="0.153"/>
<ellipse cx="890.0" cy="398.0" rx="8.8" ry="10.5" fill="url(#gn)" opacity="0.153"/>
<ellipse cx="832.0" cy="396.0" rx="8.8" ry="10.5" fill="url(#gn)" opacity="0.153"/>
<ellipse cx="990.0" cy="333.0" rx="14.0" ry="24.5" fill="url(#gnS)" opacity="1.000"/>
<ellipse cx="978.0" cy="348.0" rx="17.5" ry="24.5" fill="url(#gn)" opacity="0.700"/>
<ellipse cx="1017.0" cy="337.0" rx="15.8" ry="28.0" fill="url(#gpS)" opacity="1.000"/>
<ellipse cx="1004.0" cy="358.0" rx="21.0" ry="12.2" fill="url(#gp)" opacity="0.770"/>
<ellipse cx="997.0" cy="362.0" rx="10.5" ry="10.5" fill="url(#gp)" opacity="0.700"/>
<ellipse cx="1032.0" cy="356.0" rx="12.2" ry="15.8" fill="url(#gp)" opacity="0.455"/>
<ellipse cx="1128.0" cy="414.0" rx="15.8" ry="29.8" fill="url(#gp)" opacity="0.945"/>
<ellipse cx="1120.0" cy="430.0" rx="12.2" ry="10.5" fill="url(#gp)" opacity="0.630"/>
<ellipse cx="1050.0" cy="385.0" rx="40.1" ry="11.4" fill="url(#gn)" opacity="0.385" transform="rotate(108 1050.0 385.0)"/>
<ellipse cx="1051.0" cy="419.0" rx="21.5" ry="9.1" fill="url(#gn)" opacity="0.245" transform="rotate(135 1051.0 419.0)"/>
<ellipse cx="1074.0" cy="426.0" rx="14.0" ry="12.2" fill="url(#gn)" opacity="0.385"/>
<ellipse cx="1106.0" cy="405.0" rx="24.2" ry="11.4" fill="url(#gn)" opacity="0.350" transform="rotate(124 1106.0 405.0)"/>
<ellipse cx="1125.0" cy="383.0" rx="25.4" ry="6.8" fill="url(#gn)" opacity="0.420" transform="rotate(45 1125.0 383.0)"/>
<ellipse cx="1060.0" cy="392.0" rx="5.2" ry="15.8" fill="url(#gp)" opacity="0.245"/>
<ellipse cx="1083.0" cy="469.0" rx="10.5" ry="8.8" fill="url(#gp)" opacity="0.245" transform="rotate(-30 1083.0 469.0)"/>
<ellipse cx="1104.0" cy="376.0" rx="14.0" ry="5.2" fill="url(#gp)" opacity="0.153" transform="rotate(30 1104.0 376.0)"/>
<ellipse cx="1166.0" cy="424.0" rx="7.0" ry="5.2" fill="url(#gp)" opacity="0.245"/>
<ellipse cx="1112.0" cy="296.0" rx="7.0" ry="15.8" fill="url(#gp)" opacity="0.413"/>
<ellipse cx="1020.0" cy="376.0" rx="21.0" ry="24.5" fill="url(#gp)" opacity="0.153"/>
<ellipse cx="1221.0" cy="466.0" rx="15.8" ry="24.5" fill="url(#gnS)" opacity="1.000"/>
<ellipse cx="1202.0" cy="450.0" rx="10.5" ry="10.5" fill="url(#gn)" opacity="0.455"/>
<ellipse cx="1206.0" cy="470.0" rx="14.0" ry="17.5" fill="url(#gn)" opacity="0.350"/>
<ellipse cx="1190.0" cy="370.0" rx="8.8" ry="17.5" fill="url(#gn)" opacity="0.123"/>
<ellipse cx="245.0" cy="503.0" rx="10.5" ry="15.8" fill="url(#gn)" opacity="0.385"/>
<ellipse cx="260.0" cy="506.0" rx="5.2" ry="10.5" fill="url(#gp)" opacity="0.184"/>
<ellipse cx="285.0" cy="495.0" rx="5.2" ry="5.2" fill="url(#gp)" opacity="0.184"/>
<ellipse cx="224.0" cy="506.0" rx="12.2" ry="21.0" fill="url(#gp)" opacity="0.123"/>
<ellipse cx="348.0" cy="506.0" rx="10.5" ry="17.5" fill="url(#gp)" opacity="0.123"/>
<ellipse cx="326.0" cy="548.0" rx="10.5" ry="14.0" fill="url(#gp)" opacity="0.123"/>
<ellipse cx="436.0" cy="504.0" rx="7.0" ry="10.5" fill="url(#gn)" opacity="0.215"/>
<ellipse cx="444.0" cy="530.0" rx="7.0" ry="8.8" fill="url(#gn)" opacity="0.215"/>
<ellipse cx="364.0" cy="516.0" rx="8.8" ry="10.5" fill="url(#gn)" opacity="0.153"/>
<ellipse cx="342.0" cy="574.0" rx="8.8" ry="12.2" fill="url(#gn)" opacity="0.153"/>
<ellipse cx="236.0" cy="560.0" rx="8.8" ry="7.0" fill="url(#gn)" opacity="0.184"/>
<ellipse cx="220.0" cy="580.0" rx="7.0" ry="14.0" fill="url(#gn)" opacity="0.123"/>
<ellipse cx="294.0" cy="600.0" rx="8.8" ry="15.8" fill="url(#gn)" opacity="0.123"/>
<ellipse cx="206.0" cy="634.0" rx="7.0" ry="8.8" fill="url(#gn)" opacity="0.153"/>
<ellipse cx="382.0" cy="614.0" rx="8.8" ry="10.5" fill="url(#gn)" opacity="0.123"/>
<ellipse cx="304.0" cy="549.0" rx="5.2" ry="5.2" fill="url(#gn)" opacity="0.184"/>
<ellipse cx="358.0" cy="612.0" rx="12.2" ry="14.0" fill="url(#gp)" opacity="0.123"/>
<ellipse cx="325.0" cy="632.0" rx="10.5" ry="8.8" fill="url(#gp)" opacity="0.092"/>
<ellipse cx="246.0" cy="530.0" rx="10.5" ry="10.5" fill="url(#gp)" opacity="0.123"/>
<ellipse cx="605.0" cy="491.0" rx="8.8" ry="15.8" fill="url(#gn)" opacity="0.245"/>
<ellipse cx="652.0" cy="514.0" rx="10.5" ry="15.8" fill="url(#gp)" opacity="0.343" transform="rotate(30 652.0 514.0)"/>
<ellipse cx="648.0" cy="530.0" rx="7.0" ry="7.0" fill="url(#gp)" opacity="0.343"/>
<ellipse cx="686.0" cy="508.0" rx="8.8" ry="15.8" fill="url(#gp)" opacity="0.336" transform="rotate(-15 686.0 508.0)"/>
<ellipse cx="679.0" cy="491.0" rx="8.8" ry="15.8" fill="url(#gp)" opacity="0.261" transform="rotate(20 679.0 491.0)"/>
<ellipse cx="666.0" cy="497.0" rx="17.5" ry="12.2" fill="url(#gp)" opacity="0.169"/>
<ellipse cx="487.0" cy="543.0" rx="10.5" ry="5.2" fill="url(#gn)" opacity="0.245" transform="rotate(-25 487.0 543.0)"/>
<ellipse cx="499.0" cy="530.0" rx="5.2" ry="5.2" fill="url(#gn)" opacity="0.215"/>
<ellipse cx="574.0" cy="520.0" rx="14.0" ry="17.5" fill="url(#gn)" opacity="0.153"/>
<ellipse cx="566.0" cy="552.0" rx="7.0" ry="7.0" fill="url(#gn)" opacity="0.153"/>
<ellipse cx="586.0" cy="543.0" rx="8.8" ry="8.8" fill="url(#gn)" opacity="0.153"/>
<ellipse cx="465.0" cy="552.0" rx="7.0" ry="10.5" fill="url(#gn)" opacity="0.153"/>
<ellipse cx="605.0" cy="586.0" rx="7.0" ry="8.8" fill="url(#gn)" opacity="0.153"/>
<ellipse cx="674.0" cy="540.0" rx="7.0" ry="7.0" fill="url(#gn)" opacity="0.215"/>
<ellipse cx="713.0" cy="550.0" rx="7.0" ry="5.2" fill="url(#gn)" opacity="0.215"/>
<ellipse cx="656.0" cy="486.0" rx="7.0" ry="8.8" fill="url(#gn)" opacity="0.184"/>
<ellipse cx="634.0" cy="527.0" rx="5.2" ry="8.8" fill="url(#gn)" opacity="0.184"/>
<ellipse cx="538.0" cy="542.0" rx="12.2" ry="15.8" fill="url(#gp)" opacity="0.123"/>
<ellipse cx="470.0" cy="515.0" rx="10.5" ry="10.5" fill="url(#gp)" opacity="0.123"/>
<ellipse cx="456.0" cy="532.0" rx="8.8" ry="14.0" fill="url(#gp)" opacity="0.123"/>
<ellipse cx="560.0" cy="482.0" rx="8.8" ry="7.0" fill="url(#gp)" opacity="0.215"/>
<ellipse cx="694.0" cy="540.0" rx="10.5" ry="8.8" fill="url(#gp)" opacity="0.123"/>
<ellipse cx="688.0" cy="596.0" rx="8.8" ry="10.5" fill="url(#gp)" opacity="0.092"/>
<ellipse cx="546.0" cy="616.0" rx="7.0" ry="17.5" fill="url(#gp)" opacity="0.092"/>
<ellipse cx="745.5" cy="542.5" rx="25.4" ry="11.4" fill="url(#gp)" opacity="0.276" transform="rotate(56 745.5 542.5)"/>
<ellipse cx="851.0" cy="546.0" rx="10.5" ry="15.8" fill="url(#gn)" opacity="0.385"/>
<ellipse cx="871.0" cy="546.0" rx="14.0" ry="15.8" fill="url(#gp)" opacity="0.350"/>
<ellipse cx="954.0" cy="564.5" rx="63.0" ry="10.2" fill="url(#gp)" opacity="0.199" transform="rotate(26 954.0 564.5)"/>
<ellipse cx="952.0" cy="563.0" rx="14.0" ry="7.0" fill="url(#gp)" opacity="0.233" transform="rotate(25 952.0 563.0)"/>
<ellipse cx="968.0" cy="571.0" rx="8.8" ry="5.2" fill="url(#gp)" opacity="0.215" transform="rotate(25 968.0 571.0)"/>
<ellipse cx="920.5" cy="654.5" rx="51.9" ry="15.9" fill="url(#gp)" opacity="0.273" transform="rotate(47 920.5 654.5)"/>
<ellipse cx="889.0" cy="625.0" rx="37.8" ry="11.4" fill="url(#gp)" opacity="0.153" transform="rotate(36 889.0 625.0)"/>
<ellipse cx="725.0" cy="538.0" rx="7.0" ry="7.0" fill="url(#gn)" opacity="0.245"/>
<ellipse cx="725.0" cy="512.0" rx="5.2" ry="5.2" fill="url(#gn)" opacity="0.215"/>
<ellipse cx="965.0" cy="660.0" rx="8.8" ry="10.5" fill="url(#gn)" opacity="0.245"/>
<ellipse cx="977.0" cy="616.0" rx="7.0" ry="7.0" fill="url(#gn)" opacity="0.215"/>
<ellipse cx="980.0" cy="504.0" rx="5.2" ry="5.2" fill="url(#gn)" opacity="0.184"/>
<ellipse cx="883.0" cy="508.0" rx="7.0" ry="14.0" fill="url(#gn)" opacity="0.153"/>
<ellipse cx="860.0" cy="564.0" rx="10.5" ry="12.2" fill="url(#gn)" opacity="0.153"/>
<ellipse cx="940.0" cy="608.0" rx="7.0" ry="10.5" fill="url(#gn)" opacity="0.123"/>
<ellipse cx="810.0" cy="550.0" rx="7.0" ry="5.2" fill="url(#gn)" opacity="0.153"/>
<ellipse cx="776.0" cy="526.0" rx="17.5" ry="17.5" fill="url(#gp)" opacity="0.123"/>
<ellipse cx="776.0" cy="502.0" rx="10.5" ry="14.0" fill="url(#gp)" opacity="0.123"/>
<ellipse cx="815.0" cy="489.0" rx="8.8" ry="8.8" fill="url(#gp)" opacity="0.153"/>
<ellipse cx="860.0" cy="506.0" rx="10.5" ry="12.2" fill="url(#gp)" opacity="0.123"/>
<ellipse cx="916.0" cy="524.0" rx="10.5" ry="10.5" fill="url(#gp)" opacity="0.153"/>
<ellipse cx="900.0" cy="498.0" rx="8.8" ry="14.0" fill="url(#gp)" opacity="0.123"/>
<ellipse cx="778.0" cy="568.0" rx="12.2" ry="14.0" fill="url(#gp)" opacity="0.123"/>
<ellipse cx="834.0" cy="606.0" rx="10.5" ry="8.8" fill="url(#gp)" opacity="0.123"/>
<ellipse cx="834.0" cy="546.0" rx="7.0" ry="8.8" fill="url(#gp)" opacity="0.123"/>
<ellipse cx="936.0" cy="506.0" rx="8.8" ry="10.5" fill="url(#gp)" opacity="0.123"/>
<ellipse cx="1033.0" cy="567.0" rx="24.5" ry="29.8" fill="url(#gn)" opacity="0.403"/>
<ellipse cx="1030.0" cy="557.0" rx="17.5" ry="14.0" fill="url(#gn)" opacity="0.595"/>
<ellipse cx="1059.0" cy="562.0" rx="19.2" ry="17.5" fill="url(#gp)" opacity="1.000"/>
<ellipse cx="1064.0" cy="560.0" rx="8.8" ry="10.5" fill="url(#gp)" opacity="1.000"/>
<ellipse cx="1082.0" cy="580.0" rx="14.0" ry="15.8" fill="url(#gp)" opacity="0.357"/>
<ellipse cx="1079.0" cy="504.0" rx="8.8" ry="14.0" fill="url(#gp)" opacity="0.215"/>
<ellipse cx="1085.0" cy="528.0" rx="7.0" ry="7.0" fill="url(#gp)" opacity="0.215"/>
<ellipse cx="1013.0" cy="507.0" rx="7.0" ry="7.0" fill="url(#gp)" opacity="0.184"/>
<ellipse cx="1052.0" cy="486.0" rx="7.0" ry="7.0" fill="url(#gp)" opacity="0.184"/>
<ellipse cx="1011.0" cy="544.0" rx="7.0" ry="7.0" fill="url(#gp)" opacity="0.184"/>
<ellipse cx="1104.0" cy="606.0" rx="7.0" ry="8.8" fill="url(#gp)" opacity="0.184"/>
<ellipse cx="1075.0" cy="546.0" rx="7.0" ry="8.8" fill="url(#gp)" opacity="0.153"/>
<ellipse cx="1184.0" cy="495.0" rx="8.8" ry="7.0" fill="url(#gp)" opacity="0.245"/>
<ellipse cx="1183.0" cy="578.0" rx="7.0" ry="8.8" fill="url(#gp)" opacity="0.215"/>
<ellipse cx="1202.0" cy="592.0" rx="7.0" ry="8.8" fill="url(#gp)" opacity="0.184"/>
<ellipse cx="972.0" cy="574.0" rx="8.8" ry="5.2" fill="url(#gp)" opacity="0.153"/>
<ellipse cx="1123.0" cy="485.0" rx="7.0" ry="5.2" fill="url(#gp)" opacity="0.153"/>
<ellipse cx="1156.0" cy="495.0" rx="17.5" ry="19.2" fill="url(#gn)" opacity="0.490"/>
<ellipse cx="1174.0" cy="516.0" rx="26.2" ry="26.2" fill="url(#gn)" opacity="0.420"/>
<ellipse cx="1218.0" cy="492.0" rx="14.0" ry="21.0" fill="url(#gn)" opacity="0.630"/>
<ellipse cx="1212.0" cy="536.0" rx="5.2" ry="14.0" fill="url(#gn)" opacity="0.245" transform="rotate(30 1212.0 536.0)"/>
<ellipse cx="1150.0" cy="576.0" rx="15.8" ry="24.5" fill="url(#gn)" opacity="0.221"/>
<ellipse cx="1146.0" cy="600.0" rx="10.5" ry="21.0" fill="url(#gn)" opacity="0.215"/>
<ellipse cx="1178.0" cy="608.0" rx="17.5" ry="24.5" fill="url(#gn)" opacity="0.276"/>
<ellipse cx="1184.0" cy="632.0" rx="24.5" ry="17.5" fill="url(#gn)" opacity="0.420"/>
<ellipse cx="1200.0" cy="650.0" rx="21.0" ry="31.5" fill="url(#gn)" opacity="0.490"/>
<ellipse cx="1220.0" cy="668.0" rx="14.0" ry="17.5" fill="url(#gn)" opacity="0.560"/>
<ellipse cx="1152.0" cy="650.0" rx="8.8" ry="15.8" fill="url(#gn)" opacity="0.245"/>
<ellipse cx="1212.0" cy="610.0" rx="33.6" ry="13.7" fill="url(#gp)" opacity="1.000" transform="rotate(-40 1212.0 610.0)"/>
<ellipse cx="1046.0" cy="646.0" rx="8.8" ry="14.0" fill="url(#gn)" opacity="0.245"/>
<ellipse cx="988.0" cy="564.0" rx="8.8" ry="7.0" fill="url(#gn)" opacity="0.153"/>
<ellipse cx="979.0" cy="504.0" rx="7.0" ry="7.0" fill="url(#gn)" opacity="0.153"/>
<ellipse cx="1032.0" cy="620.0" rx="10.5" ry="14.0" fill="url(#gp)" opacity="0.123"/>
<ellipse cx="1084.0" cy="666.0" rx="8.8" ry="12.2" fill="url(#gp)" opacity="0.153"/>
<ellipse cx="1060.0" cy="640.0" rx="8.8" ry="10.5" fill="url(#gp)" opacity="0.153"/>
</g>
</g>
<polygon points="899.6,286.0 912.1,297.3 934.2,306.1 956.4,315.0 968.2,317.2 982.9,321.2 999.1,313.5 1008.0,313.5 1018.3,317.2 1028.6,325.3 1037.5,334.1 1049.3,343.0 1061.1,348.2 1072.9,350.4 1081.7,356.3 1088.1,356.5 1097.4,359.4 1107.8,360.0 1111.3,356.5 1117.1,362.3 1112.5,362.9 1126.4,378.0 1140.5,389.5 1139.5,402.5 1141.5,408.5 1149.5,412.5 1154.5,408.5 1158.0,412.0 1168.0,418.5 1172.0,423.0 1171.0,430.0 1178.0,432.0 1182.0,435.5 1186.0,434.0 1199.0,437.0 1205.0,442.0 1212.0,443.0 1213.5,450.5 1232.0,445.0 1232.0,418.5 1205.5,427.0 1201.0,423.5 1194.5,423.0 1191.5,416.5 1184.0,411.0 1178.0,405.0 1174.0,398.0 1169.3,389.0 1172.2,374.5 1174.5,360.6 1174.5,349.0 1178.8,340.8 1177.4,329.8 1169.3,325.8 1162.4,320.0 1151.9,317.6 1143.8,318.8 1136.8,317.6 1121.8,321.1 1112.5,318.8 1104.4,322.9 1092.2,316.5 1099.1,311.3 1102.6,301.4 1103.8,288.1 1104.0,280.0 899.0,280.0" fill="#fff" stroke="#fff" stroke-width="9" stroke-linejoin="round" shape-rendering="crispEdges"/><polygon points="1232.0,559.0 1225.1,560.4 1220.0,562.6 1219.2,569.3 1213.3,573.7 1216.3,583.4 1213.3,593.0 1222.9,599.6 1225.1,604.1 1232.0,606.0" fill="#fff" stroke="#fff" stroke-width="9" stroke-linejoin="round" shape-rendering="crispEdges"/><polygon points="1232.0,607.0 1225.0,610.0 1215.5,616.0 1206.6,623.3 1207.4,630.7 1214.8,642.6 1209.6,648.5 1218.5,654.4 1225.0,658.8 1232.0,662.0" fill="#fff" stroke="#fff" stroke-width="9" stroke-linejoin="round" shape-rendering="crispEdges"/><rect x="1049" y="568" width="18" height="8" fill="#fff"/><rect x="1221.5" y="546" width="6" height="14" fill="#fff"/><polygon points="899.6,286.0 912.1,297.3 934.2,306.1 956.4,315.0 968.2,317.2 982.9,321.2 999.1,313.5 1008.0,313.5 1018.3,317.2 1028.6,325.3 1037.5,334.1 1049.3,343.0 1061.1,348.2 1072.9,350.4 1081.7,356.3 1088.1,356.5 1097.4,359.4 1107.8,360.0 1111.3,356.5 1117.1,362.3 1112.5,362.9 1126.4,378.0 1140.5,389.5 1139.5,402.5 1141.5,408.5 1149.5,412.5 1154.5,408.5 1158.0,412.0 1168.0,418.5 1172.0,423.0 1171.0,430.0 1178.0,432.0 1182.0,435.5 1186.0,434.0 1199.0,437.0 1205.0,442.0 1212.0,443.0 1213.5,450.5 1232.0,445.0 1232.0,418.5 1205.5,427.0 1201.0,423.5 1194.5,423.0 1191.5,416.5 1184.0,411.0 1178.0,405.0 1174.0,398.0 1169.3,389.0 1172.2,374.5 1174.5,360.6 1174.5,349.0 1178.8,340.8 1177.4,329.8 1169.3,325.8 1162.4,320.0 1151.9,317.6 1143.8,318.8 1136.8,317.6 1121.8,321.1 1112.5,318.8 1104.4,322.9 1092.2,316.5 1099.1,311.3 1102.6,301.4 1103.8,288.1 1104.0,280.0 899.0,280.0" fill="#808080" stroke="#000" stroke-width="1" stroke-linejoin="round"/><polygon points="1232.0,559.0 1225.1,560.4 1220.0,562.6 1219.2,569.3 1213.3,573.7 1216.3,583.4 1213.3,593.0 1222.9,599.6 1225.1,604.1 1232.0,606.0" fill="#808080" stroke="#000" stroke-width="1" stroke-linejoin="round"/><polygon points="1232.0,607.0 1225.0,610.0 1215.5,616.0 1206.6,623.3 1207.4,630.7 1214.8,642.6 1209.6,648.5 1218.5,654.4 1225.0,658.8 1232.0,662.0" fill="#808080" stroke="#000" stroke-width="1" stroke-linejoin="round"/><polygon points="1055.0,557.0 1060.0,562.0 1064.0,569.0 1058.0,574.0 1054.0,572.0 1059.0,568.0 1054.0,564.0" fill="#808080" stroke="#000" stroke-width="1" stroke-linejoin="round"/><polygon points="1226.0,433.5 1219.5,436.5 1221.5,441.0 1226.0,444.0" fill="#fff" stroke="#000" stroke-width="1" stroke-linejoin="round"/>
</g>
<g stroke="#000" stroke-width="1" stroke-dasharray="1 3" fill="none"><line x1="178.0" y1="331.70" x2="1225.0" y2="331.70"/><line x1="178.0" y1="408.37" x2="1225.0" y2="408.37"/><line x1="178.0" y1="483.87" x2="1225.0" y2="483.87"/><line x1="178.0" y1="558.80" x2="1225.0" y2="558.80"/><line x1="178.0" y1="633.73" x2="1225.0" y2="633.73"/><line x1="401.24" y1="287.7" x2="401.24" y2="677.0"/><line x1="626.48" y1="287.7" x2="626.48" y2="677.0"/><line x1="851.72" y1="287.7" x2="851.72" y2="677.0"/><line x1="1076.96" y1="287.7" x2="1076.96" y2="677.0"/></g>
<g stroke="#000" stroke-width="4" fill="none"><line x1="176.0" y1="331.70" x2="186.0" y2="331.70"/><line x1="1217.0" y1="331.70" x2="1227.0" y2="331.70"/><line x1="176.0" y1="408.37" x2="186.0" y2="408.37"/><line x1="1217.0" y1="408.37" x2="1227.0" y2="408.37"/><line x1="176.0" y1="483.87" x2="186.0" y2="483.87"/><line x1="1217.0" y1="483.87" x2="1227.0" y2="483.87"/><line x1="176.0" y1="558.80" x2="186.0" y2="558.80"/><line x1="1217.0" y1="558.80" x2="1227.0" y2="558.80"/><line x1="176.0" y1="633.73" x2="186.0" y2="633.73"/><line x1="1217.0" y1="633.73" x2="1227.0" y2="633.73"/><line x1="401.24" y1="285.7" x2="401.24" y2="295.7"/><line x1="401.24" y1="669.0" x2="401.24" y2="679.0"/><line x1="626.48" y1="285.7" x2="626.48" y2="295.7"/><line x1="626.48" y1="669.0" x2="626.48" y2="679.0"/><line x1="851.72" y1="285.7" x2="851.72" y2="295.7"/><line x1="851.72" y1="669.0" x2="851.72" y2="679.0"/><line x1="1076.96" y1="285.7" x2="1076.96" y2="295.7"/><line x1="1076.96" y1="669.0" x2="1076.96" y2="679.0"/></g>
<rect x="176" y="285.7" width="1051" height="393.3" fill="none" stroke="#000" stroke-width="4.2" stroke-linejoin="round"/>
<g font-size="17.2" fill="#000"><text x="171.3" y="340.7" text-anchor="end">15<tspan dy="-7.8" font-size="12.8">o</tspan><tspan dy="7.8">N</tspan></text><text x="171.3" y="417.4" text-anchor="end">10<tspan dy="-7.8" font-size="12.8">o</tspan><tspan dy="7.8">N</tspan></text><text x="171.3" y="492.9" text-anchor="end">5<tspan dy="-7.8" font-size="12.8">o</tspan><tspan dy="7.8">N</tspan></text><text x="171.3" y="567.8" text-anchor="end">0<tspan dy="-7.8" font-size="12.8">o</tspan><tspan dy="7.8"></tspan></text><text x="171.3" y="642.7" text-anchor="end">5<tspan dy="-7.8" font-size="12.8">o</tspan><tspan dy="7.8">S</tspan></text><text x="176.8" y="701" text-anchor="middle">150<tspan dy="-7.8" font-size="12.8">o</tspan><tspan dy="7.8">W</tspan></text><text x="402.0" y="701" text-anchor="middle">135<tspan dy="-7.8" font-size="12.8">o</tspan><tspan dy="7.8">W</tspan></text><text x="627.3" y="701" text-anchor="middle">120<tspan dy="-7.8" font-size="12.8">o</tspan><tspan dy="7.8">W</tspan></text><text x="852.5" y="701" text-anchor="middle">105<tspan dy="-7.8" font-size="12.8">o</tspan><tspan dy="7.8">W</tspan></text><text x="1077.8" y="701" text-anchor="middle">90<tspan dy="-7.8" font-size="12.8">o</tspan><tspan dy="7.8">W</tspan></text></g>
<rect x="174.2" y="711.5" width="1050.6" height="19.100000000000023" fill="url(#cbg)" stroke="#262626" stroke-width="1"/>
<text x="174.2" y="755.2" text-anchor="middle" font-size="17.2" fill="#262626">-0.03</text><line x1="349.3" y1="720.1" x2="349.3" y2="730.6" stroke="#262626" stroke-width="1"/><text x="349.3" y="755.2" text-anchor="middle" font-size="17.2" fill="#262626">-0.02</text><line x1="524.4" y1="720.1" x2="524.4" y2="730.6" stroke="#262626" stroke-width="1"/><text x="524.4" y="755.2" text-anchor="middle" font-size="17.2" fill="#262626">-0.01</text><line x1="699.5" y1="720.1" x2="699.5" y2="730.6" stroke="#262626" stroke-width="1"/><text x="699.5" y="755.2" text-anchor="middle" font-size="17.2" fill="#262626">0</text><line x1="874.6" y1="720.1" x2="874.6" y2="730.6" stroke="#262626" stroke-width="1"/><text x="874.6" y="755.2" text-anchor="middle" font-size="17.2" fill="#262626">0.01</text><line x1="1049.7" y1="720.1" x2="1049.7" y2="730.6" stroke="#262626" stroke-width="1"/><text x="1049.7" y="755.2" text-anchor="middle" font-size="17.2" fill="#262626">0.02</text><text x="1224.8" y="755.2" text-anchor="middle" font-size="17.2" fill="#262626">0.03</text>
<text x="676.3" y="778.8" font-size="16.67" fill="#262626"><tspan font-size="19" dy="2.5">°</tspan><tspan dy="-2.5">C/km</tspan></text>
<text x="706" y="235" text-anchor="middle" font-size="31.2" font-weight="bold" fill="#000" style="font-kerning:none">AVHRR Zonal Sea Surface Temperature Gradient</text>
<text x="702" y="274.5" text-anchor="middle" font-size="25" font-weight="bold" fill="#000">2016-02-06</text>
</svg>
</body></html>
